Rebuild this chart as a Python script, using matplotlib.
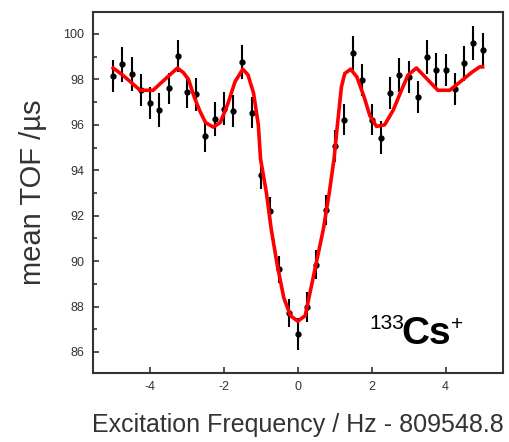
import matplotlib.pyplot as plt

plt.rcParams['font.family'] = ['Liberation Sans', 'DejaVu Sans']
plt.rcParams['axes.unicode_minus'] = False

# measured points
freq = [-5.0, -4.75, -4.5, -4.25, -4.0, -3.75, -3.5, -3.25, -3.0, -2.75,
        -2.5, -2.25, -2.0, -1.75, -1.5, -1.25, -1.0, -0.75, -0.5, -0.25,
        0.0, 0.25, 0.5, 0.75, 1.0, 1.25, 1.5, 1.75, 2.0, 2.25,
        2.5, 2.75, 3.0, 3.25, 3.5, 3.75, 4.0, 4.25, 4.5, 4.75, 5.0]
tof = [98.14, 98.66, 98.22, 97.52, 96.96, 96.67, 97.6, 99.03, 97.45, 97.35,
       95.5, 96.27, 96.71, 96.6, 98.75, 96.54, 93.78, 92.2, 89.63, 87.71,
       86.78, 87.98, 89.84, 92.26, 95.08, 96.23, 99.17, 97.96, 96.23, 95.43,
       97.4, 98.2, 98.1, 97.23, 98.97, 98.4, 98.4, 97.57, 98.7, 99.59, 99.29]
tof_err = [0.7, 0.77, 0.75, 0.7, 0.7, 0.75, 0.7, 0.7, 0.7, 0.72,
           0.7, 0.75, 0.72, 0.7, 0.75, 0.7, 0.6, 0.6, 0.6, 0.6,
           0.7, 0.65, 0.65, 0.65, 0.7, 0.7, 0.75, 0.7, 0.7, 0.72,
           0.7, 0.75, 0.7, 0.7, 0.75, 0.75, 0.7, 0.7, 0.75, 0.75, 0.75]

# fitted line shape
fit_x = [-5.0, -4.75, -4.5, -4.27, -3.92, -3.6, -3.26, -3.1, -2.96, -2.8,
         -2.65, -2.5, -2.29, -2.1, -1.9, -1.7, -1.49, -1.35, -1.2, -1.07,
         -1.01, -0.85, -0.72, -0.56, -0.38, -0.2, 0.0, 0.2, 0.3, 0.49,
         0.69, 0.85, 0.98, 1.07, 1.18, 1.27, 1.43, 1.6, 1.8, 1.95,
         2.13, 2.35, 2.58, 2.8, 2.98, 3.21, 3.45, 3.79, 4.11, 4.4,
         4.7, 4.92, 5.0]
fit_y = [98.5, 98.2, 97.85, 97.52, 97.52, 98.0, 98.5, 98.3, 98.0, 97.2,
         96.6, 96.1, 95.9, 96.1, 96.9, 97.9, 98.45, 98.2, 97.4, 96.0,
         94.5, 93.0, 91.4, 89.85, 88.38, 87.6, 87.35, 87.6, 88.38, 89.85,
         91.4, 93.0, 94.5, 95.97, 97.67, 98.26, 98.45, 98.1, 97.2, 96.4,
         95.93, 96.0, 96.64, 97.5, 98.19, 98.5, 98.1, 97.52, 97.52, 97.9,
         98.3, 98.55, 98.55]

fig = plt.figure(figsize=(5.1, 4.42), dpi=100)
ax = fig.add_axes([0.182, 0.156, 0.804, 0.817])

ax.errorbar(freq, tof, yerr=tof_err, fmt='o', color='black', markersize=3.5,
            elinewidth=1.5, capsize=0, zorder=2)
ax.plot(fit_x, fit_y, color='red', linewidth=2.6, zorder=3)

ax.set_xlim(-5.55, 5.55)
ax.set_ylim(85.07, 100.97)
ax.set_xticks([-4, -2, 0, 2, 4])
ax.set_yticks([86, 88, 90, 92, 94, 96, 98, 100])
ax.set_yticks(range(87, 101, 2), minor=True)
ax.tick_params(direction='in', length=4, width=1.2, color='#333333',
               labelsize=9, labelcolor='#333333', pad=6)
ax.tick_params(which='minor', direction='in', length=3, width=1.2, color='#333333')
for s in ax.spines.values():
    s.set_color('#333333')
    s.set_linewidth(1.5)

ax.set_xlabel('Excitation Frequency / Hz - 809548.8', fontsize=18, color='#333333', labelpad=14)
ax.set_ylabel('mean TOF /µs', fontsize=21, color='#333333', labelpad=12)

# isotope label
ax.text(1.95, 87.0, '133', fontsize=15, color='black')
ax.text(2.81, 86.37, 'Cs', fontsize=28, fontweight='bold', color='black')
ax.text(4.15, 86.95, '+', fontsize=15, color='black')

fig.savefig('out.png', dpi=100)
